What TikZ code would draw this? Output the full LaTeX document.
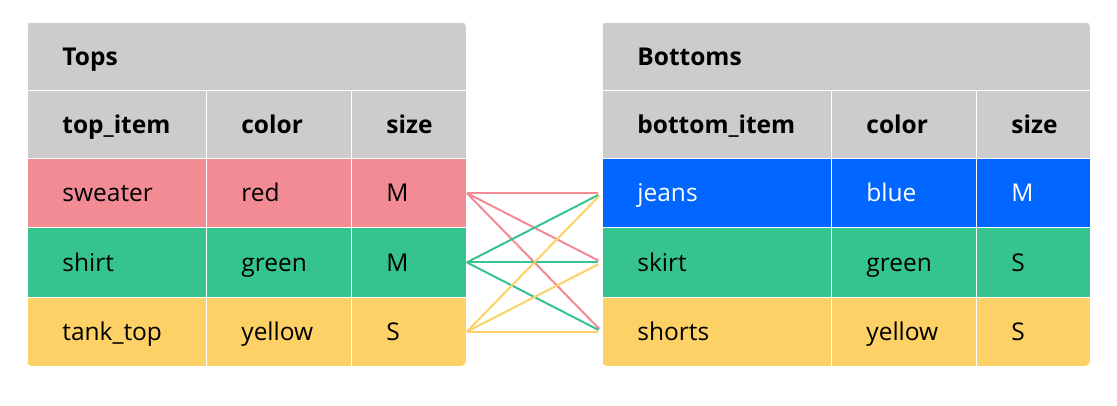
\documentclass[tikz,border=0pt]{standalone}
\usepackage{fontspec}
\setmainfont{Open Sans}
\definecolor{hdrgray}{HTML}{CCCCCC}
\definecolor{rose}{HTML}{F28B94}
\definecolor{mint}{HTML}{36C48E}
\definecolor{mustard}{HTML}{FDD166}
\definecolor{denim}{HTML}{0066FF}
\tikzset{
  cell/.style={draw=white, line width=0.8pt, anchor=north west, inner xsep=35pt,
    inner ysep=0pt, align=left, text height=17.6pt, text depth=0pt,
    font=\fontsize{24.5}{29}\selectfont, text=black},
  hcell/.style={cell, fill=hdrgray, font=\fontsize{24.5}{29}\selectfont\bfseries},
  link/.style={line width=2pt},
}
\begin{document}
\begin{tikzpicture}[x=1pt,y=-1pt]
\fill[white] (0,0) rectangle (1117,406);
\useasboundingbox (0,0) rectangle (1117,406);

% left table
\begin{scope}
\clip[rounded corners=5pt] (27,22) rectangle (466,366);
\node[hcell, text width=369pt, minimum height=68pt] (ttitle) at (27,22) {Tops};
\node[hcell, text width=109pt, minimum height=68pt] (thit) at (27,90) {top\_item};
\node[hcell, text width=75pt, minimum height=68pt] (thco) at (206,90) {color};
\node[hcell, text width=45pt, minimum height=68pt] (thsz) at (351,90) {size};
\foreach \i/\it/\co/\sz/\fc in {1/sweater/red/M/rose, 2/shirt/green/M/mint,
    3/tank\_top/yellow/S/mustard} {
  \node[cell, fill=\fc, text width=109pt, minimum height=69.33pt] (tit\i) at (27,{158+(\i-1)*69.33}) {\it};
  \node[cell, fill=\fc, text width=75pt, minimum height=69.33pt] (tco\i) at (206,{158+(\i-1)*69.33}) {\co};
  \node[cell, fill=\fc, text width=45pt, minimum height=69.33pt] (tsz\i) at (351,{158+(\i-1)*69.33}) {\sz};
}
\end{scope}

% right table
\begin{scope}
\clip[rounded corners=5pt] (602,22) rectangle (1090,366);
\node[hcell, text width=418pt, minimum height=68pt] (btitle) at (602,22) {Bottoms};
\node[hcell, text width=159pt, minimum height=68pt] (bhit) at (602,90) {bottom\_item};
\node[hcell, text width=75pt, minimum height=68pt] (bhco) at (831,90) {color};
\node[hcell, text width=44pt, minimum height=68pt] (bhsz) at (976,90) {size};
\foreach \i/\it/\co/\sz/\fc/\tc in {1/jeans/blue/M/denim/white, 2/skirt/green/S/mint/black,
    3/shorts/yellow/S/mustard/black} {
  \node[cell, fill=\fc, text=\tc, text width=159pt, minimum height=69.33pt] (bit\i) at (602,{158+(\i-1)*69.33}) {\it};
  \node[cell, fill=\fc, text=\tc, text width=75pt, minimum height=69.33pt] (bco\i) at (831,{158+(\i-1)*69.33}) {\co};
  \node[cell, fill=\fc, text=\tc, text width=44pt, minimum height=69.33pt] (bsz\i) at (976,{158+(\i-1)*69.33}) {\sz};
}
\end{scope}

% every top with every bottom
\foreach \i/\lc in {1/rose, 2/mint, 3/mustard}
  \foreach \j in {1,2,3}
    \draw[link, \lc, shorten >=4pt] (tsz\i.east) -- (bit\j.west);
\end{tikzpicture}
\end{document}
